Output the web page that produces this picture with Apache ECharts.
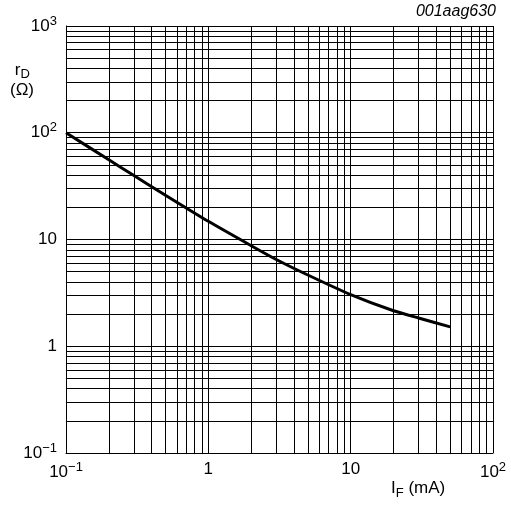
<!DOCTYPE html>
<html>
<head>
<meta charset="utf-8">
<script src="https://cdn.jsdelivr.net/npm/echarts@6/dist/echarts.min.js"></script>
<style>
  html, body { margin: 0; padding: 0; background: #fff; }
  #chart { width: 511px; height: 505px; }
</style>
</head>
<body>
<div id="chart"></div>
<script>
// forward current I_F (mA) vs differential resistance r_D (ohm)
const currentMA = [0.1, 0.2, 0.3, 0.5, 1, 2, 3, 5, 10, 20, 30, 50]
const resistance = [100, 55.8, 39.7, 26, 14.8, 8.75, 6.5, 4.65, 3.05, 2.15, 1.84, 1.52]

// tick labels by decade exponent
const xTickLabels = { '-1': '10{s|\u22121}', '0': '1', '1': '10', '2': '10{s|2}' }
const yTickLabels = { '-1': '10{s|\u22121}', '0': '1', '1': '10', '2': '10{s|2}', '3': '10{s|3}' }

// minor grid lines at 2..9 of every decade
function minorValues(lo, hi) {
  const out = []
  for (let e = lo; e < hi; e++) {
    for (let m = 2; m <= 9; m++) out.push(m * Math.pow(10, e))
  }
  return out
}
const minorLines = []
minorValues(-1, 2).forEach(v => minorLines.push({ xAxis: v }))
minorValues(-1, 3).forEach(v => minorLines.push({ yAxis: v }))

const font = 'Liberation Sans, Arial, sans-serif'
const rich = {
  s: { fontSize: 13, fontFamily: font, color: '#000', padding: [0, 0, 10, 0] }
}

const chart = echarts.init(document.getElementById('chart'))
chart.setOption({
  animation: false,
  backgroundColor: '#fff',
  grid: { left: 66, right: 18, top: 26, bottom: 52 },
  xAxis: {
    type: 'log',
    logBase: 10,
    min: 0.1,
    max: 100,
    axisLine: { show: true, lineStyle: { color: '#000', width: 1 } },
    axisTick: { show: false },
    splitLine: { show: true, lineStyle: { color: '#000', width: 1 } },
    axisLabel: {
      margin: 8,
      fontSize: 17,
      fontFamily: font,
      color: '#000',
      rich: rich,
      formatter: v => xTickLabels[String(Math.round(Math.log10(v)))] || ''
    }
  },
  yAxis: {
    type: 'log',
    logBase: 10,
    min: 0.1,
    max: 1000,
    axisLine: { show: true, lineStyle: { color: '#000', width: 1 } },
    axisTick: { show: false },
    splitLine: { show: true, lineStyle: { color: '#000', width: 1 } },
    axisLabel: {
      margin: 9,
      fontSize: 17,
      fontFamily: font,
      color: '#000',
      rich: rich,
      formatter: v => yTickLabels[String(Math.round(Math.log10(v)))] || ''
    }
  },
  graphic: [
    {
      type: 'text', left: 10, top: 60,
      style: {
        text: ' r{sub|D}\n(\u03a9)', font: '17px ' + font, fill: '#000', lineHeight: 20,
        rich: { sub: { fontSize: 13, fontFamily: font, padding: [9, 0, 0, 0] } }
      }
    },
    {
      type: 'text', left: 391, top: 480,
      style: {
        text: 'I{sub|F} (mA)', font: '17px ' + font, fill: '#000',
        rich: { sub: { fontSize: 13, fontFamily: font, padding: [9, 0, 0, 0] } }
      }
    },
    {
      type: 'text', right: 15, top: 4,
      style: { text: '001aag630', font: 'italic 16px ' + font, fill: '#000' }
    }
  ],
  series: [
    {
      type: 'line',
      data: currentMA.map((x, i) => [x, resistance[i]]),
      smooth: 0.2,
      showSymbol: false,
      lineStyle: { color: '#000', width: 3 },
      z: 5,
      markLine: {
        silent: true,
        symbol: ['none', 'none'],
        label: { show: false },
        lineStyle: { color: '#000', width: 1, type: 'solid' },
        data: minorLines,
        z: 1
      }
    }
  ]
})
</script>
</body>
</html>
